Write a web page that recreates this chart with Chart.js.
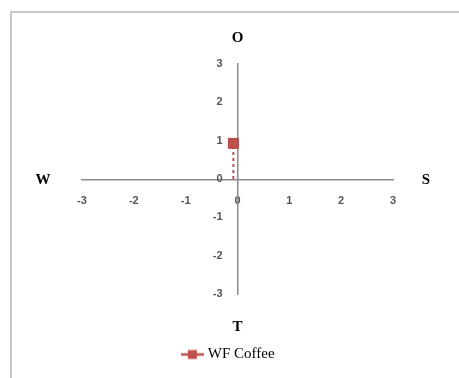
<!DOCTYPE html>
<html>
<head>
<meta charset="utf-8">
<script src="https://cdn.jsdelivr.net/npm/chart.js@4/dist/chart.umd.min.js"></script>
<style>
  html, body { margin: 0; padding: 0; background: #fff; }
  #wrap { width: 459px; height: 378px; position: relative; }
</style>
</head>
<body>
<div id="wrap"><canvas id="quad" width="459" height="378"></canvas></div>
<script>
// data
const seriesName = 'WF Coffee';
const pointX = [-0.08];
const pointY = [0.93];
const axisTicks = [-3, -2, -1, 0, 1, 2, 3];
const poleLabels = { top: 'O', bottom: 'T', left: 'W', right: 'S' };

const red = '#c0504d';

// little legend glyph: line with a square on it
const glyph = document.createElement('canvas');
glyph.width = 23; glyph.height = 12;
(function() {
    const g = glyph.getContext('2d');
    g.strokeStyle = red; g.lineWidth = 2.5;
    g.beginPath(); g.moveTo(0, 6); g.lineTo(23, 6); g.stroke();
    g.fillStyle = red; g.fillRect(7, 1.5, 9, 9);
})();

const frame = {
    id: 'frame',
    beforeDraw(chart) {
        const ctx = chart.ctx;
        ctx.save();
        ctx.strokeStyle = '#c8c8c8';
        ctx.lineWidth = 2;
        ctx.strokeRect(11, 12, 600, 500);
        ctx.restore();
    },
    afterDraw(chart) {
        const ctx = chart.ctx;
        const xs = chart.scales.x, ys = chart.scales.y;
        const cx = xs.getPixelForValue(0), cy = ys.getPixelForValue(0);
        ctx.save();
        ctx.fillStyle = '#000';
        ctx.font = 'bold 15px "Liberation Serif"';
        ctx.textAlign = 'center';
        ctx.textBaseline = 'middle';
        ctx.fillText(poleLabels.top, cx, ys.top - 26);
        ctx.fillText(poleLabels.bottom, cx, ys.bottom + 33);
        ctx.fillText(poleLabels.left, xs.left - 39, cy + 1);
        ctx.fillText(poleLabels.right, xs.right + 33, cy + 1);
        ctx.restore();
    }
};

const dropX = [pointX[0], pointX[0]];
const dropY = [0, pointY[0]];

const tickFont = { family: 'Liberation Sans', size: 11, weight: 'bold' };

// empty strips used as spacers so the legend stays centred on the whole canvas
function spacer(pos, size) {
    return {
        type: 'linear',
        position: pos,
        grid: { display: false, drawTicks: false },
        border: { display: false },
        ticks: { display: false },
        afterFit: s => {
            if (pos === 'bottom') s.height = size; else s.width = size;
        }
    };
}

new Chart('quad', {
    type: 'scatter',
    data: {
        datasets: [{
            label: seriesName,
            data: pointX.map((x, i) => ({ x: x, y: pointY[i] })),
            pointStyle: 'rect',
            pointRadius: 7,
            backgroundColor: red,
            borderColor: '#b0403d',
            borderWidth: 1,
            order: 0
        }, {
            label: 'drop',
            data: dropX.map((x, i) => ({ x: x, y: dropY[i] })),
            showLine: true,
            borderColor: red,
            borderWidth: 2,
            borderDash: [3, 3],
            pointRadius: 0,
            order: 1
        }]
    },
    options: {
        responsive: false,
        animation: false,
        layout: { padding: { left: 0, right: 0, top: 64, bottom: 6 } },
        scales: {
            x: {
                type: 'linear',
                position: 'center',
                min: -3, max: 3,
                afterBuildTicks: s => { s.ticks = axisTicks.map(v => ({ value: v })); },
                grid: { display: false, drawTicks: false },
                border: { display: true, color: '#8c8c8c', width: 1.5 },
                ticks: { padding: 15, color: '#555', font: tickFont }
            },
            y: {
                type: 'linear',
                position: 'center',
                min: -3, max: 3,
                afterBuildTicks: s => { s.ticks = axisTicks.map(v => ({ value: v })); },
                grid: { display: false, drawTicks: false },
                border: { display: true, color: '#8c8c8c', width: 1.5 },
                ticks: { padding: 15, color: '#555', font: tickFont }
            },
            gapB: spacer('bottom', 43),
            gapL: spacer('left', 82),
            gapR: spacer('right', 66)
        },
        plugins: {
            tooltip: { enabled: false },
            legend: {
                position: 'bottom',
                labels: {
                    usePointStyle: true,
                    pointStyleWidth: 16,
                    padding: 10,
                    color: '#000',
                    font: { family: 'Liberation Serif', size: 15 },
                    filter: item => item.datasetIndex === 0,
                    generateLabels: chart => Chart.defaults.plugins.legend.labels.generateLabels(chart)
                        .map(l => Object.assign(l, { pointStyle: glyph }))
                }
            }
        }
    },
    plugins: [frame]
});
</script>
</body>
</html>
